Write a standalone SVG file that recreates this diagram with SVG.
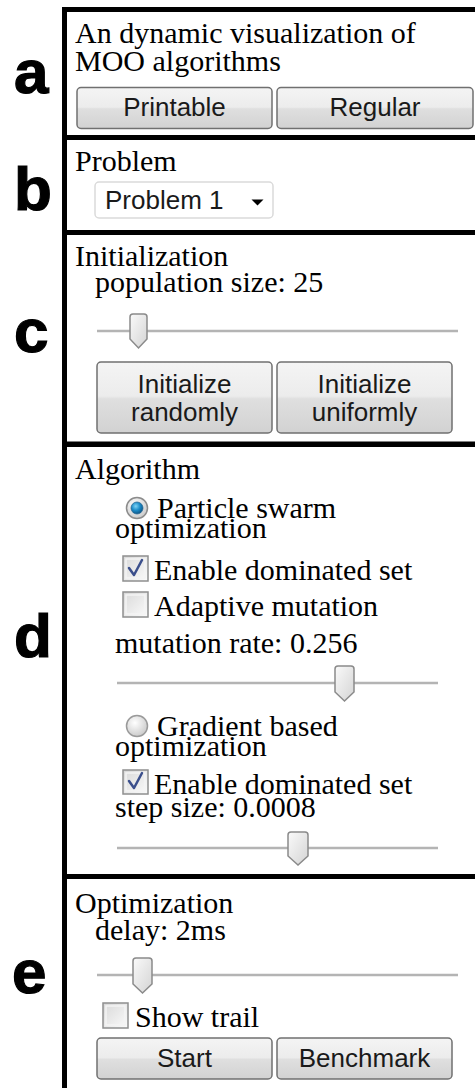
<svg xmlns="http://www.w3.org/2000/svg" width="475" height="1088" viewBox="0 0 475 1088">
<defs>
<linearGradient id="btn" x1="0" y1="0" x2="0" y2="1">
<stop offset="0" stop-color="#f4f4f4"/>
<stop offset="0.48" stop-color="#ececec"/>
<stop offset="0.52" stop-color="#dfdfdf"/>
<stop offset="1" stop-color="#d2d2d2"/>
</linearGradient>
<linearGradient id="thumb" x1="0" y1="0" x2="1" y2="1">
<stop offset="0" stop-color="#fafafa"/>
<stop offset="1" stop-color="#d4d4d4"/>
</linearGradient>
<linearGradient id="box" x1="0" y1="0" x2="1" y2="1">
<stop offset="0" stop-color="#d8d8d8"/>
<stop offset="1" stop-color="#fbfbfb"/>
</linearGradient>
<radialGradient id="radioOn" cx="0.4" cy="0.35" r="0.7">
<stop offset="0" stop-color="#7fd3f5"/>
<stop offset="0.5" stop-color="#1c8cc8"/>
<stop offset="1" stop-color="#0b4e7e"/>
</radialGradient>
<radialGradient id="radioOff" cx="0.4" cy="0.35" r="0.7">
<stop offset="0" stop-color="#ffffff"/>
<stop offset="1" stop-color="#c8c8c8"/>
</radialGradient>
</defs>
<style>
.lbl{font-family:"Liberation Sans",Arial,sans-serif;font-weight:bold;font-size:62px;fill:#000;stroke:#000;stroke-width:1.2}
.t{font-family:"Liberation Serif","Times New Roman",serif;font-size:30px;fill:#000}
.bt{font-family:"Liberation Sans",Arial,sans-serif;font-size:26px;fill:#1a1a1a;text-anchor:middle}
.btn{fill:url(#btn);stroke:#707070;stroke-width:1.5}
.bar{fill:#000}
.track{stroke:#b4b4b4;stroke-width:2.5}
.thumb{fill:url(#thumb);stroke:#8a8a8a;stroke-width:1.5}
.cb{fill:url(#box);stroke:#8e8f8f;stroke-width:1.5}
.cbin{fill:none;stroke:#f4f4f4;stroke-width:1.5}
.chk{fill:none;stroke:#3b4f8c;stroke-width:2.5;stroke-linecap:round;stroke-linejoin:round}
</style>
<rect width="475" height="1088" fill="#fff"/>
<g id="frame">
<rect class="bar" x="62" y="7" width="5" height="1081"/>
<rect class="bar" x="62" y="7" width="413" height="5"/>
<rect class="bar" x="62" y="135" width="413" height="5"/>
<rect class="bar" x="62" y="230" width="413" height="5"/>
<rect class="bar" x="62" y="441.5" width="413" height="5.5"/>
<rect class="bar" x="62" y="874" width="413" height="5"/>
</g>
<g id="labels">
<text class="lbl" x="14" y="93">a</text>
<text class="lbl" x="14" y="210">b</text>
<text class="lbl" x="14" y="352">c</text>
<text class="lbl" x="14" y="657">d</text>
<text class="lbl" x="12" y="993">e</text>
</g>
<g id="section-a">
<text class="t" x="75" y="43">An dynamic visualization of</text>
<text class="t" x="75" y="71">MOO algorithms</text>
<rect class="btn" x="77" y="87.5" width="195" height="41" rx="4"/>
<text class="bt" x="174.5" y="116">Printable</text>
<rect class="btn" x="277" y="87.5" width="196" height="41" rx="4"/>
<text class="bt" x="375" y="116">Regular</text>
</g>
<g id="section-b">
<text class="t" x="75" y="171">Problem</text>
<rect x="95" y="182" width="178" height="36" rx="4" fill="#fff" stroke="#dadada" stroke-width="1.5"/>
<text class="bt" x="105" y="209" style="text-anchor:start">Problem 1</text>
<path d="M251.5,199.5 L263.5,199.5 L257.5,205.5 Z" fill="#000"/>
</g>
<g id="section-c">
<text class="t" x="75" y="266">Initialization</text>
<text class="t" x="95" y="292">population size: 25</text>
<line class="track" x1="97" y1="331" x2="458" y2="331"/>
<path class="thumb" d="M133,314 H144 Q147,314 147,317 V339 L138.5,348 L130,339 V317 Q130,314 133,314 Z"/>
<rect class="btn" x="97" y="362" width="175" height="71" rx="4"/>
<text class="bt" x="184.5" y="393">Initialize</text>
<text class="bt" x="184.5" y="421">randomly</text>
<rect class="btn" x="277" y="362" width="175" height="71" rx="4"/>
<text class="bt" x="364.5" y="393">Initialize</text>
<text class="bt" x="364.5" y="421">uniformly</text>
</g>
<g id="section-d">
<text class="t" x="75" y="479">Algorithm</text>
<circle cx="137" cy="508" r="10.5" fill="url(#radioOff)" stroke="#8c8c8c" stroke-width="1.5"/>
<circle cx="137" cy="508" r="6" fill="url(#radioOn)" stroke="#2a6a96" stroke-width="0.8"/>
<text class="t" x="157" y="518">Particle swarm</text>
<text class="t" x="115" y="538">optimization</text>
<rect class="cb" x="123" y="556" width="25" height="25"/>
<rect class="cbin" x="126" y="559" width="19" height="19"/>
<path class="chk" d="M129,568 L134,575 L142,560"/>
<text class="t" x="154" y="580">Enable dominated set</text>
<rect class="cb" x="123" y="592" width="25" height="25"/>
<rect class="cbin" x="126" y="595" width="19" height="19"/>
<text class="t" x="154" y="616">Adaptive mutation</text>
<text class="t" x="115" y="653">mutation rate: 0.256</text>
<line class="track" x1="117" y1="683" x2="438" y2="683"/>
<path class="thumb" d="M338,666 H351 Q354,666 354,669 V692 L344.5,701 L335,692 V669 Q335,666 338,666 Z"/>
<circle cx="137" cy="726" r="10.5" fill="url(#radioOff)" stroke="#9a9a9a" stroke-width="1.5"/>
<text class="t" x="157" y="736">Gradient based</text>
<text class="t" x="115" y="756">optimization</text>
<rect class="cb" x="123" y="770" width="25" height="24"/>
<rect class="cbin" x="126" y="773" width="19" height="18"/>
<path class="chk" d="M129,781 L134,788 L142,773"/>
<text class="t" x="154" y="794">Enable dominated set</text>
<text class="t" x="115" y="817">step size: 0.0008</text>
<line class="track" x1="117" y1="848" x2="438" y2="848"/>
<path class="thumb" d="M291,832 H305 Q308,832 308,835 V856 L298,865 L288,856 V835 Q288,832 291,832 Z"/>
</g>
<g id="section-e">
<text class="t" x="75" y="913">Optimization</text>
<text class="t" x="95" y="940">delay: 2ms</text>
<line class="track" x1="97" y1="975" x2="458" y2="975"/>
<path class="thumb" d="M136,958 H149 Q152,958 152,961 V984 L142.5,993 L133,984 V961 Q133,958 136,958 Z"/>
<rect class="cb" x="103" y="1003" width="25" height="25"/>
<rect class="cbin" x="106" y="1006" width="19" height="19"/>
<text class="t" x="135" y="1027">Show trail</text>
<rect class="btn" x="97" y="1038" width="175" height="41" rx="4"/>
<text class="bt" x="184.5" y="1067">Start</text>
<rect class="btn" x="277" y="1038" width="175" height="41" rx="4"/>
<text class="bt" x="364.5" y="1067">Benchmark</text>
</g>
</svg>
